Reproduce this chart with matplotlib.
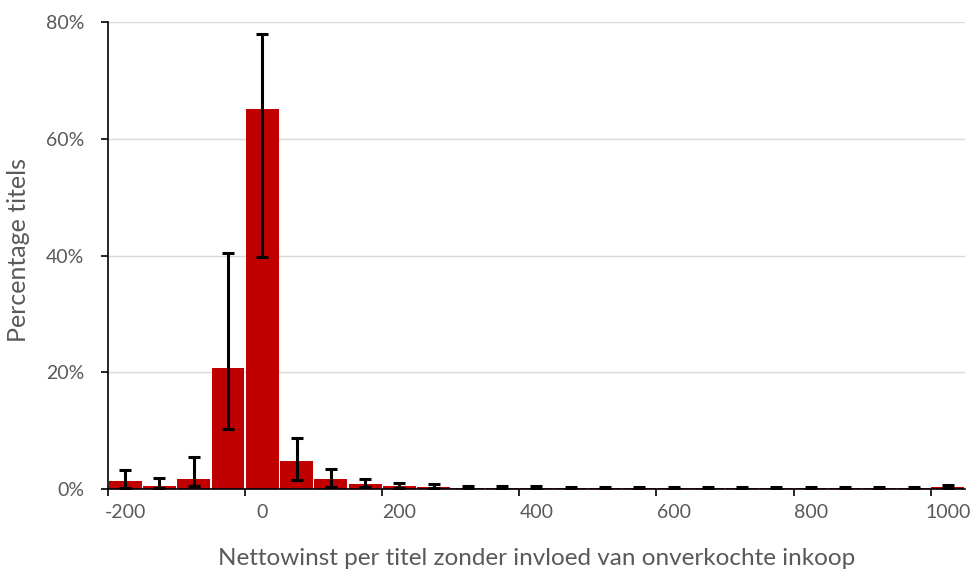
import numpy as np
import matplotlib
matplotlib.use("Agg")
import matplotlib.pyplot as plt
from matplotlib.ticker import FixedLocator, PercentFormatter

plt.rcParams['font.family'] = ['Lato', 'DejaVu Sans']

# bins (nettowinst per titel), every 50
categories = [-200, -150, -100, -50, 0, 50, 100, 150, 200, 250, 300, 350, 400,
              450, 500, 550, 600, 650, 700, 750, 800, 850, 900, 950, 1000]
# percentage titels per bin
pct = [1.3, 0.6, 1.7, 20.7, 65.1, 4.8, 1.7, 0.85, 0.55, 0.35, 0.25, 0.2, 0.2,
       0.15, 0.15, 0.15, 0.15, 0.15, 0.15, 0.12, 0.12, 0.12, 0.12, 0.12, 0.3]
# lower and upper end of the error bars
err_lo = [0.2, 0.1, 0.5, 10.2, 39.7, 1.6, 0.4, 0.3, 0.25, 0.1, 0.05, 0.05, 0.05,
          0.05, 0.05, 0.05, 0.05, 0.05, 0.05, 0.05, 0.05, 0.05, 0.05, 0.05, 0.1]
err_hi = [3.25, 1.9, 5.4, 40.4, 78.0, 8.7, 3.4, 1.7, 1.0, 0.85, 0.6, 0.5, 0.45,
          0.35, 0.35, 0.3, 0.3, 0.3, 0.3, 0.3, 0.3, 0.3, 0.3, 0.3, 0.7]
shown_labels = [-200, 0, 200, 400, 600, 800, 1000]

x = np.arange(len(categories))
pct = np.array(pct)
yerr = np.vstack([pct - np.array(err_lo), np.array(err_hi) - pct])

fig = plt.figure(figsize=(9.71, 5.70), dpi=100)
ax = fig.add_axes([0.1112, 0.1421, 0.8826, 0.8193])

ax.bar(x, pct, width=0.96, color='#C00000', zorder=2)
ax.errorbar(x, pct, yerr=yerr, fmt='none', ecolor='black', elinewidth=2.2,
            capsize=4.5, capthick=2.2, zorder=3)

ax.set_xlim(-0.5, len(categories) - 0.5)
ax.set_ylim(0, 80)
ax.yaxis.set_major_locator(FixedLocator([0, 20, 40, 60, 80]))
ax.yaxis.set_major_formatter(PercentFormatter(decimals=0))
ax.grid(axis='y', color='#D9D9D9', linewidth=1.0, zorder=0)

# labels every 4th category, tick marks on category boundaries
ax.set_xticks([categories.index(c) for c in shown_labels])
ax.set_xticklabels([str(c) for c in shown_labels])
ax.set_xticks(np.arange(-0.5, len(categories) - 1, 4), minor=True)
ax.tick_params(axis='x', which='major', length=0, pad=11, labelsize=14, labelcolor='#595959')
ax.tick_params(axis='x', which='minor', length=5, width=1.2, direction='out', color='black')
ax.tick_params(axis='y', length=5, width=1.2, direction='out', color='black',
               pad=12, labelsize=14, labelcolor='#595959')

for s in ['top', 'right']:
    ax.spines[s].set_visible(False)
for s in ['left', 'bottom']:
    ax.spines[s].set_color('black')
    ax.spines[s].set_linewidth(1.2)
ax.spines['bottom'].set_zorder(4)

ax.set_xlabel('Nettowinst per titel zonder invloed van onverkochte inkoop',
              fontsize=17.5, color='#595959', labelpad=19)
ax.set_ylabel('Percentage titels', fontsize=18, color='#595959')
ax.yaxis.set_label_coords(-0.091, 0.512)

fig.savefig('out.png', dpi=100)
